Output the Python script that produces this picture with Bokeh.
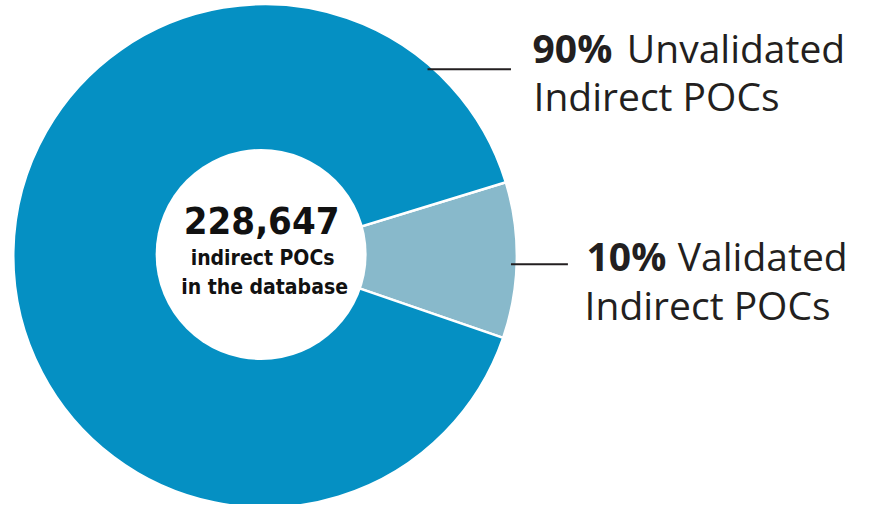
import numpy as np
from bokeh.plotting import figure
from bokeh.models import Range1d, ColumnDataSource
from bokeh.core.properties import value
from bokeh.embed import file_html
from bokeh.resources import INLINE

# ---- data ----
categories = ["Validated Indirect POCs", "Unvalidated Indirect POCs"]
shares = [10, 90]
pct_labels = ["10%", "90%"]
status_words = ["Validated", "Unvalidated"]
slice_colors = ["#88B9CB", "#0590C3"]
total_pocs = 228647
center_lines = ["indirect POCs", "in the database"]

# ---- layout (data units = reference pixels, canvas slightly smaller) ----
W, H = 857, 504
p = figure(width=W, height=H, output_backend="svg", toolbar_location=None,
           x_range=Range1d(0, 873), y_range=Range1d(-520, 0),
           min_border=0, border_fill_color="white")
p.axis.visible = False
p.grid.visible = False
p.outline_line_color = None

cx, cy, R = 269.5, -263.5, 256.5
start_deg = -19.0
fr = np.array(shares, dtype=float) / sum(shares)
ends = start_deg + np.cumsum(fr) * 360.0
starts = np.concatenate([[start_deg], ends[:-1]])
src = ColumnDataSource(dict(start=np.deg2rad(starts), end=np.deg2rad(ends),
                            color=slice_colors, cat=categories))
p.wedge(x=cx, y=cy, radius=R, start_angle="start", end_angle="end",
        fill_color="color", line_color="white", line_width=2.5, source=src)

# hole
p.scatter(x=[265.5], y=[-262], size=211, marker="circle",
          fill_color="white", line_color=None)


def up(fpx):
    # compensation for where the glyph baseline lands
    return 0.42 * fpx / 0.969


# centre texts
cf = value("'DejaVu Sans Condensed', 'Roboto Condensed', Roboto")
big = 38
small = 21
p.text(x=[266], y=[-243 + up(big)], text=[f"{total_pocs:,}"], text_font=cf,
       text_font_style="bold", text_font_size=f"{big}px", text_align="center",
       text_baseline="alphabetic", text_color="#111111")
p.text(x=[267, 269], y=[-275 + up(small), -305 + up(small)], text=center_lines,
       text_font=cf, text_font_style="bold", text_font_size=f"{small}px",
       text_align="center", text_baseline="alphabetic", text_color="#111111")

# leader lines
p.segment(x0=[435, 520], y0=[-71, -272], x1=[520, 578], y1=[-71, -272],
          line_color="#231F20", line_width=2)

lf = value("Open Sans")
tc = "#231F20"
fpx = 39
fs = f"{fpx}px"
d = up(fpx)
p.text(x=[542, 597], y=[-65 + d, -280 + d], text=[pct_labels[1], pct_labels[0]],
       text_font=lf, text_font_style="bold", text_font_size=fs,
       text_baseline="alphabetic", text_color=tc)
p.text(x=[638, 690], y=[-65 + d, -280 + d], text=[status_words[1], status_words[0]],
       text_font=lf, text_font_size=fs, text_baseline="alphabetic",
       text_color=tc)
p.text(x=[543, 595], y=[-115 + d, -331 + d], text=["Indirect POCs", "Indirect POCs"],
       text_font=lf, text_font_size=fs, text_baseline="alphabetic",
       text_color=tc)

open("out.html", "w").write(file_html(p, INLINE))
